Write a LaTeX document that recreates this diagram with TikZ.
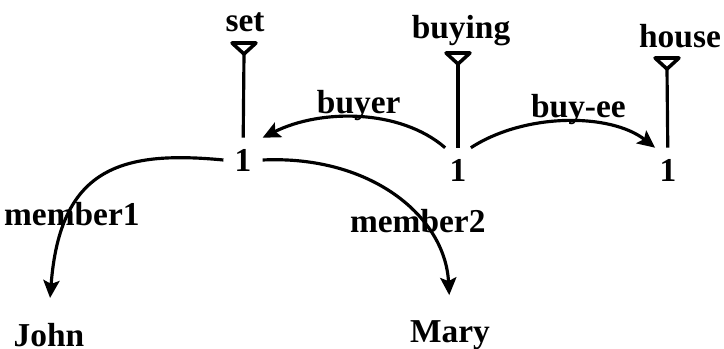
\documentclass[tikz,border=0pt]{standalone}
\usepackage{fontspec}
\setmainfont{Liberation Serif}
\usetikzlibrary{arrows.meta}

\begin{document}
\begin{tikzpicture}[x=0.01cm,y=-0.01cm,>={Stealth[length=5pt,width=4.6pt,inset=1pt]},
   font=\fontsize{9.5}{11}\selectfont\bfseries,
   word/.style={inner sep=3pt},
   one/.style={inner sep=3pt},
   stem/.style={line width=0.9pt},
   role/.style={->,line width=0.9pt},
   marker/.pic={\draw[line width=1pt,line join=round] (-12,0) -- (12,0) -- (0,11) -- cycle;
                \coordinate (-tip) at (0,11);}]
  \useasboundingbox (0,0) rectangle (724,349);
  % concept labels with their markers
  \node[word] (set)    at (245,22)  {set};
  \node[word] (buying) at (461,31)  {buying};
  \node[word] (house)  at (680,36)  {house};
  \pic (mset) at (244,43) {marker};
  \pic (mbuy) at (458,53) {marker};
  \pic (mhou) at (667,58) {marker};
  % instance nodes
  \node[one] (s1) at (243,160) {1};
  \node[one] (b1) at (458,170) {1};
  \node[one] (h1) at (668,170) {1};
  \node[word] (john) at (49,335)  {John};
  \node[word] (mary) at (450,335) {Mary};
  \draw[stem] (mset-tip) -- (s1);
  \draw[stem] (mbuy-tip) -- (b1);
  \draw[stem] (mhou-tip) -- (h1);
  % roles
  \draw[role] (b1.120) .. controls +(-45,-39) and +(58,-29) .. node[above=-1.4pt,inner sep=0pt]{buyer} (s1.north east);
  \draw[role] (b1.60) .. controls +(54,-35) and +(-45,-35) .. node[pos=0.56,above=-1.4pt,inner sep=0pt]{buy-ee} (h1.120);
  \draw[role,shorten >=4pt] (s1.west) .. controls +(-104,-10) and +(11,-143) .. node[pos=0.7]{member1} (john.north);
  \draw[role,shorten >=4pt] (s1.east) .. controls +(108,-5) and +(-5,-93) .. node[pos=0.63]{member2} (mary.north);
\end{tikzpicture}
\end{document}
